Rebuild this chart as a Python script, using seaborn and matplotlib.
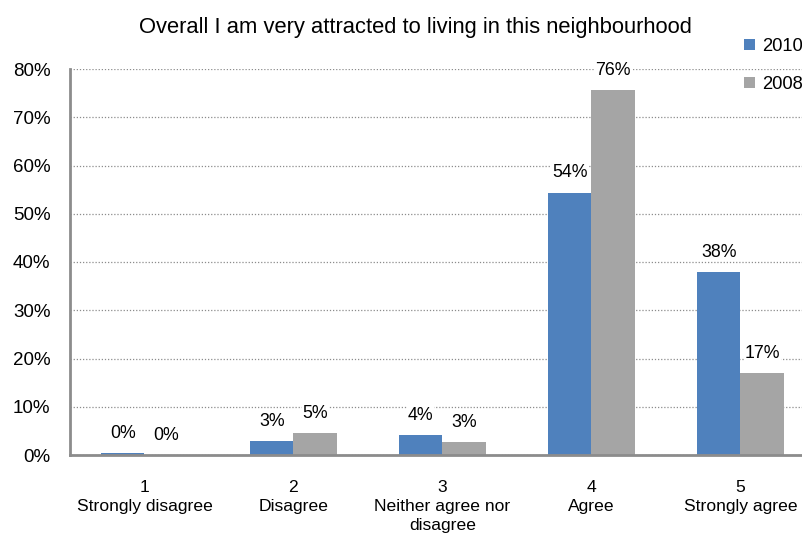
import matplotlib
matplotlib.use("Agg")
import matplotlib.pyplot as plt
from matplotlib.ticker import FixedLocator, PercentFormatter
from matplotlib.patches import Patch
import seaborn as sns
import pandas as pd

categories = ["1\nStrongly disagree", "2\nDisagree", "3\nNeither agree nor\ndisagree",
              "4\nAgree", "5\nStrongly agree"]
years = ["2010", "2008"]
values_2010 = [0.4, 2.8, 4.2, 54.4, 38.0]
values_2008 = [0.0, 4.6, 2.7, 75.6, 17.0]
colors = ["#4F81BD", "#A5A5A5"]
title = "Overall I am very attracted to living in this neighbourhood"

df = pd.DataFrame({
    "category": categories * 2,
    "year": [years[0]] * len(categories) + [years[1]] * len(categories),
    "value": values_2010 + values_2008,
})

sns.set_theme(style="white")
plt.rcParams["font.family"] = ["Liberation Sans", "DejaVu Sans"]
plt.rcParams["text.color"] = "black"

fig = plt.figure(figsize=(8.03, 5.38), dpi=100)
ax = fig.add_axes([70 / 803, 83 / 538, 745 / 803, 386 / 538])

sns.barplot(data=df, x="category", y="value", hue="year", order=categories,
            hue_order=years, palette=colors, width=0.58, saturation=1,
            edgecolor="none", linewidth=0, ax=ax, legend=False)

ax.set_xlim(-0.5, len(categories) - 0.5)
ax.set_ylim(0, 80)
ax.yaxis.set_major_locator(FixedLocator(range(0, 81, 10)))
ax.yaxis.set_major_formatter(PercentFormatter(decimals=0))
ax.grid(axis="y", color="#8c8c8c", linestyle=(0, (1, 1.5)), linewidth=0.9)
ax.set_axisbelow(True)

ax.set_xlabel("")
ax.set_ylabel("")
ax.tick_params(axis="x", which="major", length=0, pad=18, labelsize=12.6, labelcolor="black")
ax.xaxis.set_minor_locator(FixedLocator([i - 0.5 for i in range(len(categories) + 1)]))
ax.tick_params(axis="x", which="minor", length=5, width=1.5, color="#8c8c8c", direction="out")
ax.tick_params(axis="y", which="major", length=5, width=1.5, color="#8c8c8c",
               direction="out", labelsize=13.5, pad=9, labelcolor="black")
for lbl in ax.get_xticklabels():
    lbl.set_linespacing(1.33)

for side in ["top", "right"]:
    ax.spines[side].set_visible(False)
for side in ["left", "bottom"]:
    ax.spines[side].set_color("#8c8c8c")
    ax.spines[side].set_linewidth(2)

for container in ax.containers:
    labels = [f"{round(b.get_height()):.0f}%" for b in container]
    ax.bar_label(container, labels=labels, padding=8, fontsize=12.8, color="black",
                 bbox=dict(facecolor="white", edgecolor="none", pad=0.5))

fig.text(415 / 803, 1 - 27 / 538, title, ha="center", va="center", fontsize=15.8)

handles = [Patch(facecolor=c, edgecolor="none") for c in colors]
fig.legend(handles, years, loc="upper left", bbox_to_anchor=(744 / 803, 1 - 38 / 538),
           frameon=False, fontsize=13.2, handlelength=0.6, handleheight=0.6,
           handletextpad=0.4, labelspacing=1.15, borderaxespad=0, borderpad=0)

fig.savefig("out.png", dpi=100)
